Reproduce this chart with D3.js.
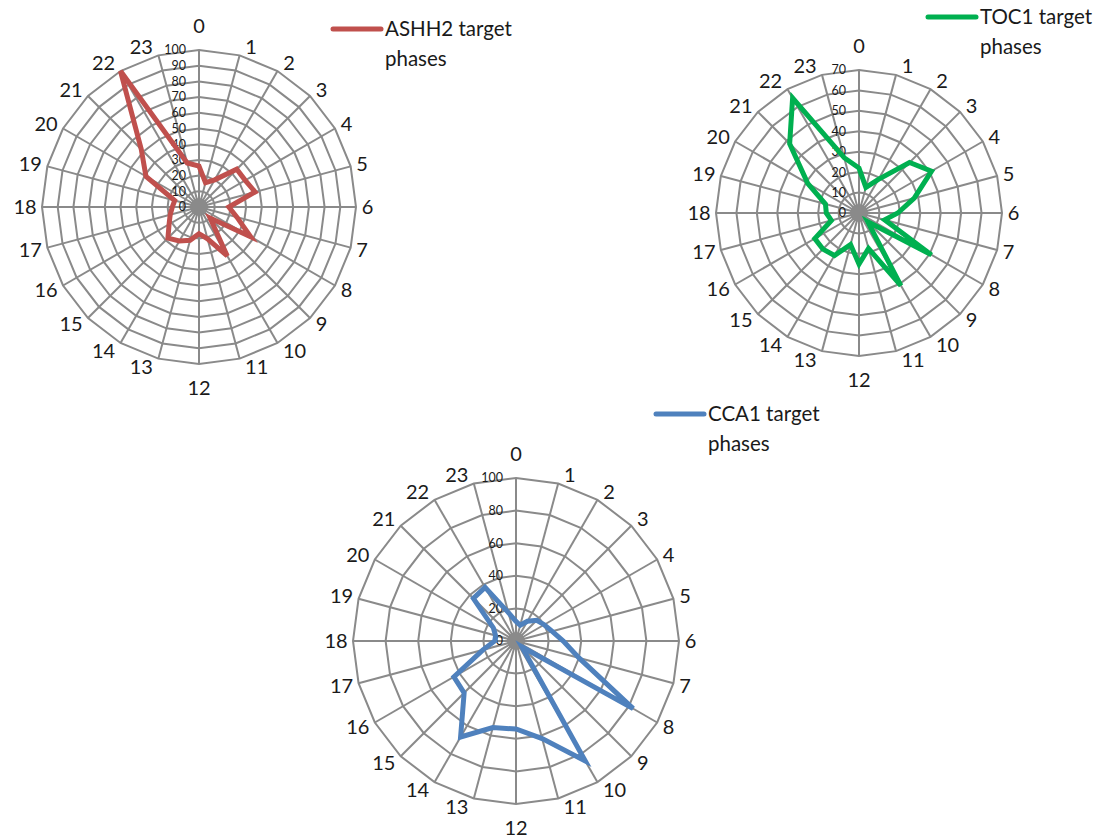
<!DOCTYPE html>
<html>
<head>
<meta charset="utf-8">
<script src="https://cdn.jsdelivr.net/npm/d3@7"></script>
<style>
  html, body { margin: 0; padding: 0; background: #ffffff; }
  svg { display: block; }
  text { font-family: Lato, "Open Sans", "Liberation Sans", sans-serif; fill: #1a1a1a; }
</style>
</head>
<body>
<svg id="chart" width="1105" height="840"></svg>
<script>
// ---- data ----
const hourLabels = ["0","1","2","3","4","5","6","7","8","9","10","11","12","13","14","15","16","17","18","19","20","21","22","23"];

const ashh2Values = [26, 16, 20, 34, 34, 37, 19, 25, 38, 10, 36, 21, 17, 22, 25, 28, 22, 19, 17, 16, 39, 52, 100, 29];
const toc1Values  = [22, 13, 19, 35, 41, 28, 19, 13, 41, 6, 41, 18, 25, 16, 24, 25, 25, 14, 16, 17, 29, 48, 65, 28];
const cca1Values  = [12, 10, 14, 18, 20, 23, 29, 40, 83, 5, 85, 62, 54, 55, 68, 45, 44, 21, 13, 13, 16, 37, 38, 18];

const ashh2Ticks = [0, 10, 20, 30, 40, 50, 60, 70, 80, 90, 100];
const toc1Ticks  = [0, 10, 20, 30, 40, 50, 60, 70];
const cca1Ticks  = [0, 20, 40, 60, 80, 100];

const ashh2Legend = ["ASHH2 target", "phases"];
const toc1Legend  = ["TOC1 target", "phases"];
const cca1Legend  = ["CCA1 target", "phases"];

// ---- layout (positions / styles) ----
const charts = [
  { values: ashh2Values, ticks: ashh2Ticks, legend: ashh2Legend, color: "#C0504D",
    cx: 199, cy: 207, R: 157, legX: 333, legY: 29 },
  { values: toc1Values, ticks: toc1Ticks, legend: toc1Legend, color: "#00B050",
    cx: 859, cy: 213, R: 143, legX: 928, legY: 17 },
  { values: cca1Values, ticks: cca1Ticks, legend: cca1Legend, color: "#4F81BD",
    cx: 516, cy: 641, R: 163, legX: 656, legY: 414 }
];

const svg = d3.select("#chart");
const gridColor = "#8a8a8a";
const n = hourLabels.length;
const angle = d3.scaleLinear().domain([0, n]).range([0, 2 * Math.PI]);
const digitW = 11;

charts.forEach(c => {
  const r = d3.scaleLinear().domain([0, d3.max(c.ticks)]).range([0, c.R]);
  const g = svg.append("g").attr("transform", `translate(${c.cx},${c.cy})`);

  // rings (polygonal)
  const ringLine = d3.lineRadial()
    .angle((d, i) => angle(i))
    .radius(d => r(d))
    .curve(d3.curveLinearClosed);
  c.ticks.filter(t => t > 0).forEach(t => {
    g.append("path")
      .attr("d", ringLine(hourLabels.map(() => t)))
      .attr("fill", "none")
      .attr("stroke", gridColor)
      .attr("stroke-width", 2);
  });

  // spokes
  g.selectAll("line.spoke")
    .data(hourLabels)
    .join("line")
    .attr("class", "spoke")
    .attr("x1", 0).attr("y1", 0)
    .attr("x2", (d, i) => c.R * Math.sin(angle(i)))
    .attr("y2", (d, i) => -c.R * Math.cos(angle(i)))
    .attr("stroke", gridColor)
    .attr("stroke-width", 2);

  // center hub
  g.append("circle").attr("r", 9).attr("fill", gridColor);

  // value labels
  g.selectAll("text.tick")
    .data(c.ticks)
    .join("text")
    .attr("class", "tick")
    .attr("x", -13)
    .attr("y", d => -r(d))
    .attr("dy", "0.35em")
    .attr("text-anchor", "end")
    .style("font-size", "12.5px")
    .text(d => d);

  // category labels (Excel-like placement)
  g.selectAll("text.cat")
    .data(hourLabels)
    .join("text")
    .attr("class", "cat")
    .attr("x", (d, i) => {
      const a = angle(i);
      const s = Math.sin(a);
      const ex = c.R * s;
      if (Math.abs(s) < 0.01) return ex;
      return ex + Math.sign(s) * (d.length * digitW / 2 + 6);
    })
    .attr("y", (d, i) => {
      const a = angle(i);
      const s = Math.sin(a), co = Math.cos(a);
      const ey = -c.R * co;
      if (Math.abs(s) < 0.01) return ey - Math.sign(co) * 24;
      return ey - co * 9;
    })
    .attr("dy", "0.35em")
    .attr("text-anchor", "middle")
    .style("font-size", "20px")
    .text(d => d);

  // data line
  const dataLine = d3.lineRadial()
    .angle((d, i) => angle(i))
    .radius(d => r(d))
    .curve(d3.curveLinearClosed);
  g.append("path")
    .attr("d", dataLine(c.values))
    .attr("fill", "none")
    .attr("stroke", c.color)
    .attr("stroke-width", 5)
    .attr("stroke-linejoin", "miter");

  // legend
  const lg = svg.append("g").attr("transform", `translate(${c.legX},${c.legY})`);
  lg.append("line")
    .attr("x1", 0).attr("x2", 48).attr("y1", 0).attr("y2", 0)
    .attr("stroke", c.color).attr("stroke-width", 5).attr("stroke-linecap", "round");
  lg.selectAll("text")
    .data(c.legend)
    .join("text")
    .attr("x", 52)
    .attr("y", (d, i) => i * 29.5)
    .attr("dy", "0.35em")
    .style("font-size", "20.5px")
    .text(d => d);
});
</script>
</body>
</html>
